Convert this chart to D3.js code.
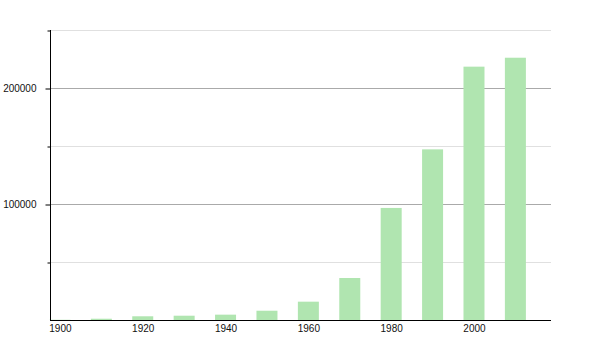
<!DOCTYPE html>
<html>
<head>
<meta charset="utf-8">
<script src="https://cdn.jsdelivr.net/npm/d3@7"></script>
<style>
  body { margin: 0; background: #fff; }
  text { font-family: "Liberation Sans", Arial, sans-serif; }
</style>
</head>
<body>
<div id="chart"></div>
<script>
// population by decade
var years = [1900, 1910, 1920, 1930, 1940, 1950, 1960, 1970, 1980, 1990, 2000, 2010];
var values = [200, 1100, 3200, 3700, 4600, 8000, 15800, 36200, 96600, 147100, 218400, 226100];
var xTicks = [1900, 1920, 1940, 1960, 1980, 2000];
var yMajor = [100000, 200000];
var yMinor = [50000, 150000, 250000];

var width = 600, height = 350;

var svg = d3.select("#chart").append("svg")
    .attr("width", width)
    .attr("height", height);

var x = d3.scaleLinear().domain([1897.6, 2018.6]).range([50, 551]);
var y = d3.scaleLinear().domain([0, 250000]).range([320, 30]);

var barW = 21;

// grid lines
svg.selectAll(".gminor")
    .data(yMinor)
  .enter().append("line")
    .attr("x1", 50).attr("x2", 551)
    .attr("y1", d => y(d) + 0.5).attr("y2", d => y(d) + 0.5)
    .style("stroke", "#e0e0e0");

svg.selectAll(".gmajor")
    .data(yMajor)
  .enter().append("line")
    .attr("x1", 50).attr("x2", 551)
    .attr("y1", d => y(d) + 0.5).attr("y2", d => y(d) + 0.5)
    .style("stroke", "#aaaaaa");

// bars
svg.selectAll("rect")
    .data(years)
  .enter().append("rect")
    .attr("x", (d) => x(d) - barW / 2)
    .attr("width", barW)
    .attr("y", (d, i) => y(values[i]))
    .attr("height", (d, i) => y(0) - y(values[i]))
    .style("fill", "#b0e5b0");

// y axis, major ticks with labels
var yAxis = svg.append("g")
    .attr("transform", "translate(50.5,0.5)")
    .call(d3.axisLeft(y).tickValues(yMajor).tickSize(5).tickPadding(9).tickFormat(d3.format("d")));
yAxis.select(".domain").attr("d", "M0," + (y(250000) - 0.5) + "V" + y(0));

// minor ticks
svg.append("g")
    .attr("transform", "translate(50.5,0.5)")
    .call(d3.axisLeft(y).tickValues(yMinor).tickSize(3).tickFormat(""))
    .select(".domain").remove();

// x axis
var xAxis = svg.append("g")
    .attr("transform", "translate(0," + (y(0) + 0.5) + ")")
    .call(d3.axisBottom(x).tickValues(xTicks).tickSize(0).tickPadding(4).tickFormat(d3.format("d")));
xAxis.select(".domain").attr("d", "M50,0H551");

svg.selectAll(".tick text")
    .style("font-size", "10px")
    .style("fill", "#111");
svg.selectAll(".domain, .tick line").style("stroke", "#000");
</script>
</body>
</html>
